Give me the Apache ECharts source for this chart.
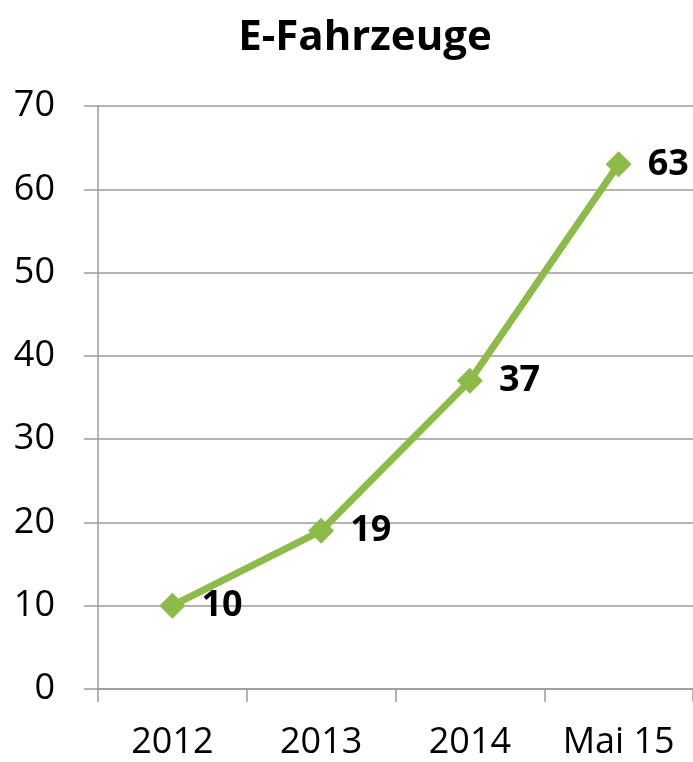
<!DOCTYPE html>
<html>
<head>
<meta charset="utf-8">
<script src="https://cdn.jsdelivr.net/npm/echarts@6/dist/echarts.min.js"></script>
<style>
  html, body { margin: 0; padding: 0; background: #fff; }
  #chart { width: 693px; height: 762px; }
</style>
</head>
<body>
<div id="chart"></div>
<script>
// Daten
var kategorien = ['2012', '2013', '2014', 'Mai 15'];
var werte = [10, 19, 37, 63];

var myChart = echarts.init(document.getElementById('chart'));
var schrift = '"Open Sans", "Noto Sans", sans-serif';

var option = {
  animation: false,
  title: {
    text: 'E-Fahrzeuge',
    left: 360,
    top: 12,
    textAlign: 'center',
    textStyle: { fontFamily: schrift, fontSize: 42, fontWeight: 'bold', color: '#000' }
  },
  grid: { left: 98, right: -2, top: 106, bottom: 73 },
  xAxis: {
    type: 'category',
    data: kategorien,
    boundaryGap: true,
    axisLine: { lineStyle: { color: '#9a9a9a', width: 1.5 } },
    axisTick: { show: true, length: 13, lineStyle: { color: '#9a9a9a', width: 1.5 } },
    axisLabel: { margin: 36, fontFamily: schrift, fontSize: 36, color: '#000' }
  },
  yAxis: {
    type: 'value',
    min: 0,
    max: 70,
    interval: 10,
    axisLine: { show: true, lineStyle: { color: '#9a9a9a', width: 1.5 } },
    axisTick: { show: true, length: 14, lineStyle: { color: '#9a9a9a', width: 1.5 } },
    splitLine: { lineStyle: { color: '#9a9a9a', width: 1.5 } },
    axisLabel: { margin: 43, fontFamily: schrift, fontSize: 36, color: '#000' }
  },
  series: [{
    type: 'line',
    data: werte,
    symbol: 'diamond',
    symbolSize: 26,
    lineStyle: { color: '#8dbb48', width: 7 },
    itemStyle: { color: '#8dbb48' },
    label: {
      show: true,
      position: 'right',
      distance: 16,
      fontFamily: schrift,
      fontSize: 36,
      fontWeight: 'bold',
      color: '#000'
    }
  }]
};

myChart.setOption(option);
</script>
</body>
</html>
